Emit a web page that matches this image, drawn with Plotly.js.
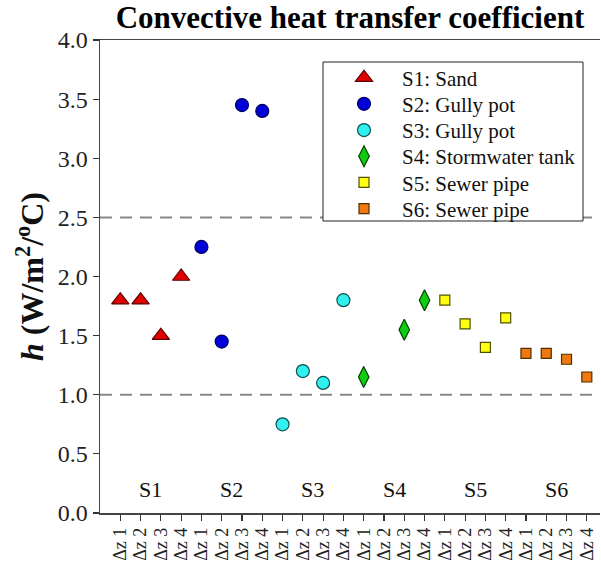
<!DOCTYPE html>
<html>
<head>
<meta charset="utf-8">
<script src="https://cdn.plot.ly/plotly-3.0.1.min.js"></script>
<style>html,body{margin:0;padding:0;background:#fff;}#chart{width:601px;height:575px;}</style>
</head>
<body>
<div id="chart"></div>
<script>
// Data
const tickLabels = ["Δz 1","Δz 2","Δz 3","Δz 4","Δz 1","Δz 2","Δz 3","Δz 4","Δz 1","Δz 2","Δz 3","Δz 4",
                    "Δz 1","Δz 2","Δz 3","Δz 4","Δz 1","Δz 2","Δz 3","Δz 4","Δz 1","Δz 2","Δz 3","Δz 4"];
const groupLabels = ["S1","S2","S3","S4","S5","S6"];
const seriesNames = ["S1: Sand","S2: Gully pot","S3: Gully pot","S4: Stormwater tank","S5: Sewer pipe","S6: Sewer pipe"];
const s1x = [1,2,3,4],     s1y = [1.8,1.8,1.5,2.0];
const s2x = [5,6,7,8],     s2y = [2.25,1.45,3.45,3.4];
const s3x = [9,10,11,12],  s3y = [0.75,1.2,1.1,1.8];
const s4x = [13,15,16],    s4y = [1.15,1.55,1.8];
const s5x = [17,18,19,20], s5y = [1.8,1.6,1.4,1.65];
const s6x = [21,22,23,24], s6y = [1.35,1.35,1.3,1.15];
const refLines = [2.5, 1.0];

const styles = [
  {symbol:"triangle-up", size:15, color:"#e00000", line:"#5a0000"},
  {symbol:"circle", size:13, color:"#0000d8", line:"#000060"},
  {symbol:"circle", size:13, color:"#30f0f0", line:"#105050"},
  {symbol:"diamond-tall", size:15, color:"#10cc10", line:"#004000"},
  {symbol:"square", size:10, color:"#ffff10", line:"#505000"},
  {symbol:"square", size:10, color:"#f07810", line:"#503000"}
];
const xs = [s1x,s2x,s3x,s4x,s5x,s6x];
const ys = [s1y,s2y,s3y,s4y,s5y,s6y];

const legendIds = ["legend","legend2","legend3","legend4","legend5","legend6"];

const traces = xs.map((x,i)=>({
  type:"scatter", mode:"markers", x:x, y:ys[i], name:seriesNames[i], legend:legendIds[i],
  marker:{symbol:styles[i].symbol, size:styles[i].size, color:styles[i].color,
          line:{color:styles[i].line, width:1.2}}
}));

const tickvals = tickLabels.map((_,i)=>i+1);

const serif = "Liberation Serif";

const annotations = groupLabels.map((g,i)=>({
  x: 2.5 + 4*i, y: 0.2, xref:"x", yref:"y", text:g, showarrow:false,
  font:{family:serif, size:22, color:"#111"}
}));

const shapes = refLines.map(v=>({
  type:"line", xref:"paper", yref:"y", x0:0, x1:1, y0:v, y1:v,
  line:{color:"#888", width:2, dash:"12px,8px"}
}));
// legend frame (plot px: left 100, bottom 513, width 500, height 473)
const PX = px => (px-100)/500, PY = py => (513-py)/473;
shapes.push({type:"rect", xref:"paper", yref:"paper", x0:PX(323), x1:PX(583), y0:PY(221), y1:PY(62),
             line:{color:"#222", width:1}, fillcolor:"#fff"});

const layout = {
  width:601, height:575,
  margin:{l:100, r:1, t:40, b:62},
  paper_bgcolor:"#fff", plot_bgcolor:"#fff",
  font:{family:serif, color:"#111"},
  title:{text:"<b>Convective heat transfer coefficient</b>", font:{family:serif, size:31, color:"#000"},
         x:0.5, xanchor:"center", y:1-17/575, yanchor:"middle", xref:"paper", yref:"container"},
  showlegend:true,
  xaxis:{range:[0,24.65], tickmode:"array", tickvals:tickvals, ticktext:tickLabels,
         tickangle:-90, ticks:"outside", ticklen:6, tickwidth:1.2, tickcolor:"#333",
         showline:true, linecolor:"#444", linewidth:1.5, mirror:true, showgrid:false, zeroline:false,
         tickfont:{family:serif, size:18, color:"#222"}},
  yaxis:{range:[0,4], dtick:0.5, tickformat:".1f", ticks:"outside", ticklen:6, tickwidth:1.2, tickcolor:"#333",
         showline:true, linecolor:"#444", linewidth:1.5, showgrid:false, zeroline:false,
         tickfont:{family:serif, size:24, color:"#222"},
         title:{text:"<b><i>h</i> (W/m<sup>2</sup>/<sup>o</sup>C)</b>", font:{family:serif, size:32, color:"#111"}, standoff:4}},
  annotations:annotations,
  shapes:shapes
};
const rowCenters = [78, 104.2, 130.4, 156.6, 182.8, 209];
legendIds.forEach((id,i)=>{
  layout[id] = {x:PX(326), y:PY(rowCenters[i]), xanchor:"left", yanchor:"middle",
                bgcolor:"rgba(0,0,0,0)", borderwidth:0, itemwidth:66,
                font:{family:serif, size:21, color:"#111"}};
});

Plotly.newPlot("chart", traces, layout, {displayModeBar:false, staticPlot:true});
</script>
</body>
</html>
